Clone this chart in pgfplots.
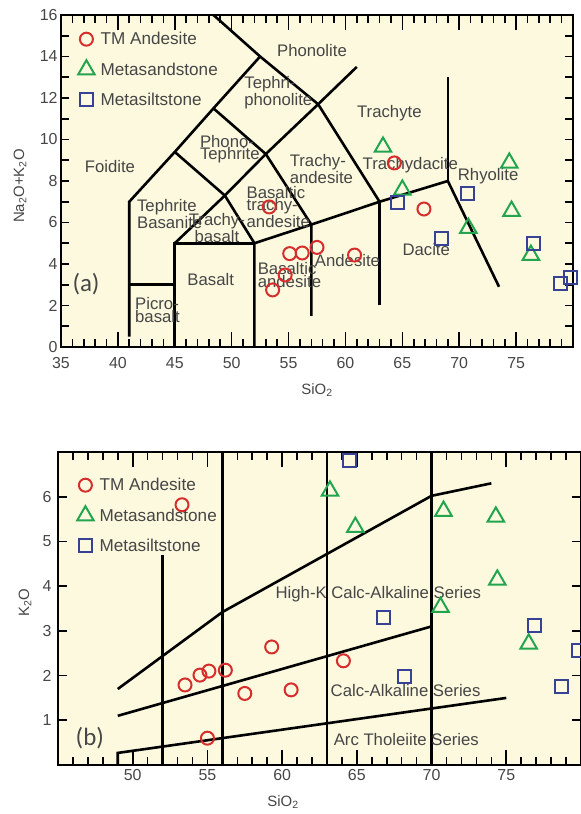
\documentclass[border=0pt]{standalone}
\usepackage{fontspec}
\setmainfont{Liberation Sans}
\newfontfamily\carl{Carlito}
\usepackage{pgfplots}
\pgfplotsset{compat=1.18}
\definecolor{bgy}{RGB}{252,249,222}
\definecolor{tmred}{RGB}{214,45,45}
\definecolor{msgreen}{RGB}{35,165,80}
\definecolor{msblue}{RGB}{55,65,150}
\definecolor{txt}{RGB}{70,70,70}
\tikzset{lab/.style={font=\fontsize{16.8}{12.5}\selectfont, text=txt, inner sep=0pt},
         tk/.style={line width=1.6bp, black}}
\pgfplotsset{
  myax/.style={
    scale only axis,
    axis on top,
    axis background/.style={fill=bgy},
    axis line style={line width=2.6bp, black},
    tick align=inside,
    minor tick length=0pt,
    major tick length=0pt,
    tick label style={font=\fontsize{16}{16}\selectfont, text=txt},
    /pgf/number format/assume math mode=true,
    legend style={draw=none, fill=none, font=\fontsize{17.2}{17.2}\selectfont, text=txt, anchor=north west, row sep=12bp, column sep=4bp},
    legend cell align=left,
    legend image code/.code={\path[draw=none,fill=none] (-8bp,-9bp) rectangle (8bp,9bp); \draw[##1] plot coordinates {(0bp,0bp)};},
  },
  bnd/.style={black, line width=2.6bp, no markers, forget plot},
  sA/.style={only marks, color=tmred, mark=o, mark size=6.5bp, mark options={line width=2bp}},
  sB/.style={only marks, color=msgreen, mark=triangle, mark size=9.5bp, mark options={line width=2bp}},
  sC/.style={only marks, color=msblue, mark=square, mark size=6.5bp, mark options={line width=2bp}},
}
\begin{document}
\begin{tikzpicture}
\useasboundingbox (0,0) rectangle (581bp,814bp);
% ---------------- Panel (a) ----------------
\begin{axis}[myax,
  at={(61bp,467bp)}, anchor=south west,
  width=512bp, height=332bp,
  xmin=35, xmax=80, ymin=0, ymax=16,
  xtick={35,40,...,80}, xticklabels={35,40,45,50,55,60,65,70,75,},
  ytick={0,...,16}, yticklabels={0,,2,,4,,6,,8,,10,,12,,14,,16},
  xticklabel style={yshift=-7bp},
  legend style={at={(axis description cs:0,1)}, xshift=14bp, yshift=-13bp},
]
% tick marks (lengths in data units)
\pgfplotsinvokeforeach{36,...,79}{\draw[tk] (axis cs:#1,0) -- (axis cs:#1,0.386); \draw[tk] (axis cs:#1,16) -- (axis cs:#1,15.614);}
\pgfplotsinvokeforeach{40,45,...,75}{\draw[tk] (axis cs:#1,0) -- (axis cs:#1,0.723); \draw[tk] (axis cs:#1,16) -- (axis cs:#1,15.277);}
\pgfplotsinvokeforeach{1,...,15}{\draw[tk] (axis cs:35,#1) -- (axis cs:35.703,#1); \draw[tk] (axis cs:80,#1) -- (axis cs:79.297,#1);}
% boundaries
\addplot[bnd] coordinates {(41,0.5)(41,7)(45,9.4)(48.4,11.5)(52.5,14)};
\addplot[bnd] coordinates {(41,3)(45,3)};
\addplot[bnd] coordinates {(45,0)(45,5)(52,5)};
\addplot[bnd] coordinates {(52,0)(52,5)(57,5.9)(63,7)(69,8)(73.5,2.9)};
\addplot[bnd] coordinates {(57,1.5)(57,5.9)(53,9.3)(48.4,11.5)};
\addplot[bnd] coordinates {(52,5)(49.4,7.3)(45,9.4)};
\addplot[bnd] coordinates {(45,5)(49.4,7.3)(53,9.3)(57.6,11.7)(61,13.5)};
\addplot[bnd] coordinates {(48.4,16)(52.5,14)(57.6,11.7)(63,7)};
\addplot[bnd] coordinates {(63,2)(63,7)};
\addplot[bnd] coordinates {(69,8)(69,13)};
% field names
\node[lab] at (axis cs:57.06,14.27) {Phonolite};
\node[lab, align=left, anchor=west] at (axis cs:51.1,12.26) {Tephri-\\phonolite};
\node[lab, align=left, anchor=west] at (axis cs:47.2,9.54) {Phono-\\Tephrite};
\node[lab] at (axis cs:39.3,8.72) {Foidite};
\node[lab] at (axis cs:63.86,11.28) {Trachyte};
\node[lab, align=left, anchor=west] at (axis cs:55.09,8.58) {Trachy-\\andesite};
\node[lab] at (axis cs:65.7,8.77) {Trachydacite};
\node[lab] at (axis cs:72.54,8.24) {Rhyolite};
\node[lab, align=center] at (axis cs:48.7,5.73) {Trachy-\\basalt};
\node[lab, align=left, anchor=west] at (axis cs:41.67,6.41) {Tephrite\\Basanite};
\node[lab, align=left, anchor=west] at (axis cs:51.3,6.75) {Basaltic\\trachy-\\andesite};
\node[lab] at (axis cs:48.16,3.23) {Basalt};
\node[lab, align=left, anchor=west] at (axis cs:41.5,1.78) {Picro-\\basalt};
\node[lab, align=left, anchor=west] at (axis cs:52.28,3.47) {Basaltic\\andesite};
\node[lab] at (axis cs:60.18,4.19) {Andesite};
\node[lab] at (axis cs:67.1,4.72) {Dacite};
\node[text=txt, inner sep=0pt, font=\carl\fontsize{25}{25}\selectfont] at (axis cs:37.2,3.04) {(a)};
% samples
\addplot[sA] coordinates {(64.3,8.87)(66.9,6.65)(53.3,6.75)(55.1,4.5)(56.2,4.53)(57.5,4.8)(60.8,4.43)(54.7,3.47)(53.6,2.75)};
\addlegendentry{TM Andesite}
\addplot[sB] coordinates {(63.3,9.64)(74.4,8.87)(65.0,7.57)(74.6,6.55)(70.8,5.73)(76.3,4.43)};
\addlegendentry{Metasandstone}
\addplot[sC] coordinates {(64.6,6.94)(70.7,7.42)(68.4,5.25)(76.5,5.0)(78.9,3.08)(79.8,3.37)};
\addlegendentry{Metasiltstone}
\end{axis}
% ---------------- Panel (b) ----------------
\begin{axis}[myax,
  at={(58bp,49bp)}, anchor=south west,
  width=523bp, height=313bp,
  xmin=45, xmax=80, ymin=0, ymax=7,
  xtick={45,50,...,80}, xticklabels={,50,55,60,65,70,75,},
  ytick={0,...,7}, yticklabels={,1,2,3,4,5,6,},
  xticklabel style={yshift=-1bp},
  yticklabel style={xshift=-3bp},
  legend style={at={(axis description cs:0,1)}, xshift=16bp, yshift=-22bp},
]
% tick marks (lengths in data units)
\pgfplotsinvokeforeach{46,...,79}{\draw[tk] (axis cs:#1,0) -- (axis cs:#1,0.179); \draw[tk] (axis cs:#1,7) -- (axis cs:#1,6.821);}
\pgfplotsinvokeforeach{50,55,...,75}{\draw[tk] (axis cs:#1,0) -- (axis cs:#1,0.335); \draw[tk] (axis cs:#1,7) -- (axis cs:#1,6.665);}
\pgfplotsinvokeforeach{1,...,6}{\draw[tk] (axis cs:45,#1) -- (axis cs:45.602,#1); \draw[tk] (axis cs:80,#1) -- (axis cs:79.398,#1);}
% boundaries
\addplot[bnd] coordinates {(52,0)(52,4.7)};
\addplot[bnd] coordinates {(56,0)(56,7)};
\addplot[bnd] coordinates {(63,0)(63,7)};
\addplot[bnd] coordinates {(70,0)(70,7)};
\addplot[bnd] coordinates {(49,1.7)(56,3.42)(63,4.72)(70,6.02)(74,6.3)};
\addplot[bnd] coordinates {(49,1.1)(70,3.1)};
\addplot[bnd] coordinates {(49,0)(49,0.27)(75,1.5)};
\node[lab] at (axis cs:66.44,3.83) {High-K Calc-Alkaline Series};
\node[lab] at (axis cs:68.26,1.66) {Calc-Alkaline Series};
\node[lab] at (axis cs:68.31,0.58) {Arc Tholeiite Series};
\node[text=txt, inner sep=0pt, font=\carl\fontsize{25}{25}\selectfont] at (axis cs:47.13,0.6) {(b)};
\addplot[sA] coordinates {(53.3,5.82)(53.5,1.79)(54.5,2.01)(55.1,2.1)(56.2,2.12)(57.5,1.6)(59.3,2.64)(60.6,1.68)(55.0,0.6)(64.1,2.33)};
\addlegendentry{TM Andesite}
\addplot[sB] coordinates {(63.2,6.13)(64.9,5.32)(70.8,5.68)(74.3,5.55)(74.4,4.14)(70.6,3.53)(76.5,2.71)};
\addlegendentry{Metasandstone}
\addplot[sC] coordinates {(64.5,6.82)(66.8,3.29)(76.9,3.11)(68.2,1.99)(78.7,1.75)(79.8,2.57)};
\addlegendentry{Metasiltstone}
\end{axis}
% axis titles
\node[rotate=90, text=txt, font=\fontsize{15}{15}\selectfont] at (20bp,628bp) {Na\textsubscript{2}O+K\textsubscript{2}O};
\node[text=txt, font=\fontsize{15}{15}\selectfont] at (317bp,424bp) {SiO\textsubscript{2}};
\node[rotate=90, text=txt, font=\fontsize{15}{15}\selectfont] at (25bp,211bp) {K\textsubscript{2}O};
\node[text=txt, font=\fontsize{15}{15}\selectfont] at (283bp,12bp) {SiO\textsubscript{2}};
\end{tikzpicture}
\end{document}
